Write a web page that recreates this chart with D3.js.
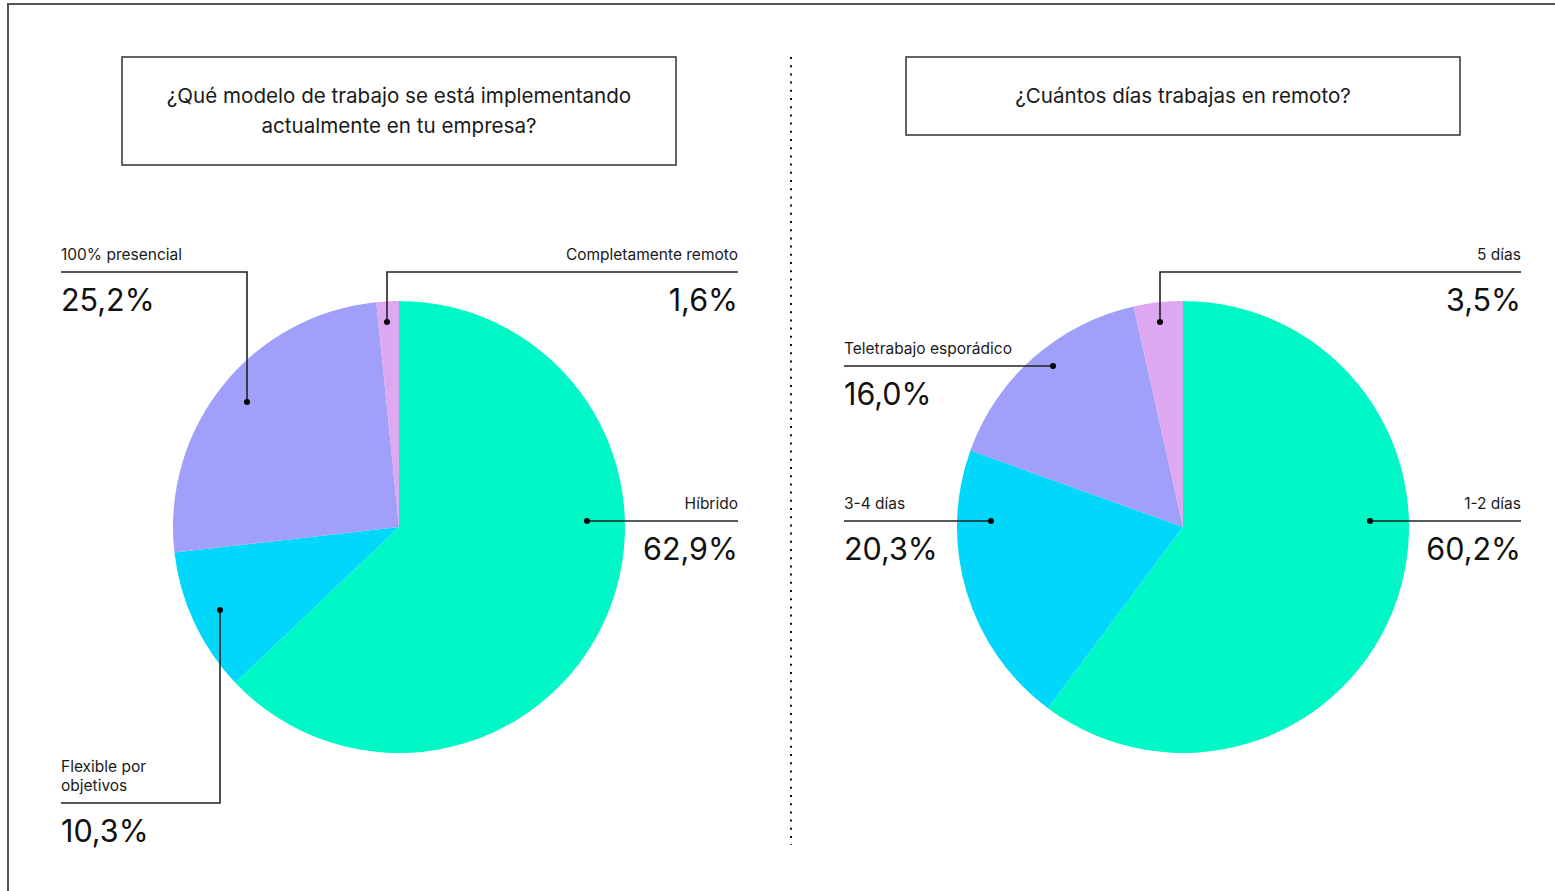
<!DOCTYPE html>
<html>
<head>
<meta charset="utf-8">
<script src="https://cdn.jsdelivr.net/npm/d3@7"></script>
<style>
  html, body { margin: 0; padding: 0; background: #fff; }
  svg { display: block; font-family: "Inter", "Roboto", sans-serif; }
</style>
</head>
<body>
<svg id="chart" width="1555" height="891"></svg>
<script>
// Survey answers, percentages
const modeloCategories = ["Híbrido", "Flexible por objetivos", "100% presencial", "Completamente remoto"];
const modeloValues = [62.9, 10.3, 25.2, 1.6];
const modeloTitle = ["¿Qué modelo de trabajo se está implementando", "actualmente en tu empresa?"];

const diasCategories = ["1-2 días", "3-4 días", "Teletrabajo esporádico", "5 días"];
const diasValues = [60.2, 20.3, 16.0, 3.5];
const diasTitle = ["¿Cuántos días trabajas en remoto?"];

const sliceColors = ["#00F7C6", "#00D7FB", "#A09FF9", "#DDA8EF"];

const svg = d3.select("#chart");
const fmt = v => d3.format(".1f")(v).replace(".", ",") + "%";

// Outer frame
svg.append("path")
  .attr("d", "M8,891 V4 H1555")
  .attr("fill", "none").attr("stroke", "#555").attr("stroke-width", 2);

// Dotted divider
svg.append("line")
  .attr("x1", 791).attr("x2", 791).attr("y1", 57).attr("y2", 845)
  .attr("stroke", "#111").attr("stroke-width", 2)
  .attr("stroke-dasharray", "2,6.2");

// Callout layout per slice: label block position, alignment, rule height,
// and the anchor dot relative to the pie centre ("h" = straight rule, "v" = rule with a drop)
const modeloLayout = [
  { x: 738, y: 503, align: "end", lineY: 521, anchor: [188, -6], kind: "h" },
  { x: 61, y: 766, align: "start", lineY: 803, anchor: [-179, 83], kind: "v", lines: ["Flexible por", "objetivos"] },
  { x: 61, y: 254, align: "start", lineY: 272, anchor: [-152, -125], kind: "v" },
  { x: 738, y: 254, align: "end", lineY: 272, anchor: [-12, -205], kind: "v" }
];
const diasLayout = [
  { x: 1521, y: 503, align: "end", lineY: 521, anchor: [187, -6], kind: "h" },
  { x: 844, y: 503, align: "start", lineY: 521, anchor: [-192, -6], kind: "h" },
  { x: 844, y: 348, align: "start", lineY: 366, anchor: [-130, -161], kind: "h" },
  { x: 1521, y: 254, align: "end", lineY: 272, anchor: [-23, -205], kind: "v" }
];

function titleBox(x, y, w, h, lines) {
  const g = svg.append("g");
  g.append("rect").attr("x", x).attr("y", y).attr("width", w).attr("height", h)
    .attr("fill", "none").attr("stroke", "#333").attr("stroke-width", 1.5);
  g.selectAll("text").data(lines).join("text")
    .attr("x", x + w / 2)
    .attr("y", (d, i) => y + 46 + i * 30)
    .attr("text-anchor", "middle")
    .attr("font-size", 20.6)
    .attr("fill", "#1a1a1a")
    .text(d => d);
}

function drawPie(cx, cy, r, categories, values, layout) {
  const pie = d3.pie().sort(null).value(d => d);
  const arcs = pie(values);
  const arc = d3.arc().innerRadius(0).outerRadius(r);
  const g = svg.append("g").attr("transform", `translate(${cx},${cy})`);
  g.selectAll("path.slice").data(arcs).join("path")
    .attr("class", "slice")
    .attr("d", arc)
    .attr("fill", (d, i) => sliceColors[i]);

  categories.forEach((cat, i) => {
    const L = layout[i];
    const ax = cx + L.anchor[0], ay = cy + L.anchor[1];
    const d = L.kind === "h"
      ? `M${L.x},${L.lineY} H${ax}`
      : `M${L.x},${L.lineY} H${ax} V${ay}`;
    svg.append("path").attr("d", d).attr("fill", "none")
      .attr("stroke", "#222").attr("stroke-width", 1.6);
    svg.append("circle").attr("cx", ax).attr("cy", ay).attr("r", 3).attr("fill", "#000");

    const lines = L.lines || [cat];
    svg.append("g").selectAll("text").data(lines).join("text")
      .attr("x", L.x)
      .attr("y", (d, j) => L.y + 5.5 + j * 19)
      .attr("text-anchor", L.align)
      .attr("font-size", 15.5)
      .attr("fill", "#1a1a1a")
      .text(d => d);
    svg.append("text")
      .attr("x", L.x)
      .attr("y", L.lineY + 39)
      .attr("text-anchor", L.align)
      .attr("font-size", 30.5)
      .attr("fill", "#111")
      .text(fmt(values[i]));
  });
}

titleBox(122, 57, 554, 108, modeloTitle);
titleBox(906, 57, 554, 78, diasTitle);

drawPie(399, 527, 226, modeloCategories, modeloValues, modeloLayout);
drawPie(1183, 527, 226, diasCategories, diasValues, diasLayout);
</script>
</body>
</html>
